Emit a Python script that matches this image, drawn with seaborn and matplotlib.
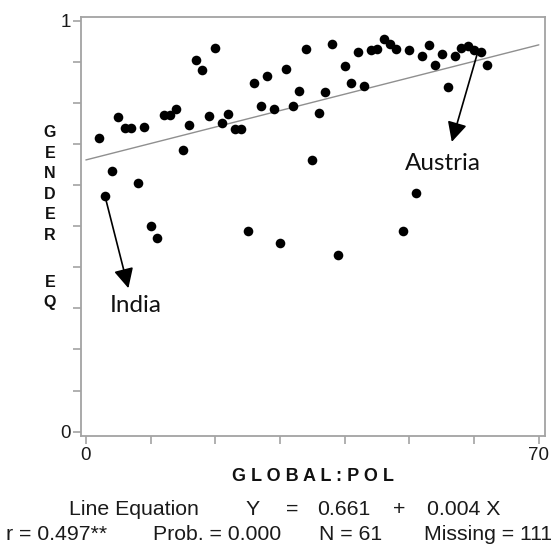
import matplotlib
matplotlib.use("Agg")
import matplotlib.pyplot as plt
import seaborn as sns
import pandas as pd

# ---- data ----
global_pol = [2, 3, 4, 5, 6, 7, 8, 9, 10, 11, 12, 13, 14, 15, 16, 17, 18, 19, 20, 21,
              22, 23, 24, 25, 26, 27, 28, 29, 30, 31, 32, 33, 34, 35, 36, 37, 38, 39, 40, 41,
              42, 43, 44, 45, 46, 47, 48, 49, 50, 51, 52, 53, 54, 55, 56, 57, 58, 59, 60, 61, 62]
gender_eq = [0.714, 0.573, 0.634, 0.766, 0.739, 0.739, 0.604, 0.740, 0.500, 0.472,
             0.770, 0.770, 0.785, 0.685, 0.745, 0.905, 0.881, 0.767, 0.934, 0.751,
             0.773, 0.736, 0.736, 0.487, 0.848, 0.793, 0.864, 0.785, 0.460, 0.883,
             0.792, 0.829, 0.931, 0.661, 0.775, 0.826, 0.944, 0.430, 0.890, 0.847,
             0.923, 0.840, 0.928, 0.931, 0.955, 0.944, 0.931, 0.488, 0.929, 0.581,
             0.915, 0.940, 0.893, 0.919, 0.839, 0.913, 0.933, 0.937, 0.928, 0.923, 0.893]
fit_x = [0, 70]
fit_y = [0.661, 0.941]          # Y = 0.661 + 0.004 X
x_ticks = [0, 10, 20, 30, 40, 50, 60, 70]
x_tick_labels = ["0", "", "", "", "", "", "", "70"]
y_ticks = [0, 0.1, 0.2, 0.3, 0.4, 0.5, 0.6, 0.7, 0.8, 0.9, 1.0]
y_tick_labels = ["0", "", "", "", "", "", "", "", "", "", "1"]
annot_labels = ["India", "Austria"]
annot_points = [(2.97, 0.572), (60.5, 0.920)]
annot_tips = [(6.57, 0.349), (56.55, 0.705)]
annot_text_pos = [(7.76, 0.308), (55.2, 0.653)]
x_label = "G L O B A L : P O L"
y_label_top = list("GENDER")
y_label_bottom = list("EQ")
stats_row1 = ["Line Equation", "Y", "=", "0.661", "+", "0.004 X"]
stats_row2 = ["r = 0.497**", "Prob. = 0.000", "N = 61", "Missing = 111"]

df = pd.DataFrame({"GLOBAL:POL": global_pol, "GENDER EQ": gender_eq})

sns.set_theme(style="white")
plt.rcParams["font.family"] = ["Liberation Sans", "DejaVu Sans"]

W, H = 558, 547
fig = plt.figure(figsize=(W / 100, H / 100), dpi=100)
left, right, top, bottom = 80.7, 545.3, 17.3, 436.0
ax = fig.add_axes([left / W, 1 - bottom / H, (right - left) / W, (bottom - top) / H])

sns.scatterplot(data=df, x="GLOBAL:POL", y="GENDER EQ", color="black", s=48,
                linewidth=0, ax=ax, zorder=3)
sns.lineplot(x=fit_x, y=fit_y, color="#8f8f8f", linewidth=1.0, ax=ax, zorder=2)

ax.set_xlim(-0.8, 71.0)
ax.set_ylim(-0.0105, 1.008)
ax.set_xticks(x_ticks)
ax.set_xticklabels(x_tick_labels)
ax.set_yticks(y_ticks)
ax.set_yticklabels(y_tick_labels)
ax.set_xlabel("")
ax.set_ylabel("")
axis_grey = "#a3a3a3"
for sp in ax.spines.values():
    sp.set_visible(True)
    sp.set_color(axis_grey)
    sp.set_linewidth(1.3)
ax.tick_params(axis="both", direction="out", length=6, width=1.2, color=axis_grey,
               labelsize=13.5, labelcolor="#1a1a1a", bottom=True, left=True,
               top=False, right=False)
ax.tick_params(axis="x", pad=2)
ax.tick_params(axis="y", pad=1)
ax.grid(False)

# annotations
for lab, pt, tip, tp in zip(annot_labels, annot_points, annot_tips, annot_text_pos):
    ax.annotate("", xy=tip, xytext=pt,
                arrowprops=dict(arrowstyle="-|>", color="black", lw=1.2,
                                mutation_scale=30, shrinkA=0, shrinkB=0))
    ax.text(tp[0], tp[1], lab, ha="center", va="center", fontsize=17.5,
            family=["Lato", "DejaVu Sans"], color="#111111")

# axis labels
fig.text(312.5 / W, 1 - 480.7 / H, x_label, ha="center", va="baseline",
         fontsize=13, fontweight="bold", color="#111111")
y_top_px = [131.7, 152.2, 172.7, 193.2, 213.7, 234.2]
y_bot_px = [281.7, 301.7]
for ch, yp in zip(y_label_top + y_label_bottom, y_top_px + y_bot_px):
    fig.text(50 / W, 1 - (yp + 5.6) / H, ch, ha="center", va="baseline",
             fontsize=11.5, fontweight="bold", color="#111111")

# stats text
row1_x = [69, 246, 286, 317, 393, 427]
row2_x = [6, 153, 319, 424]
for t, xp in zip(stats_row1, row1_x):
    fig.text(xp / W, 1 - 514.7 / H, t, ha="left", va="baseline", fontsize=15.3,
             color="#1a1a1a")
for t, xp in zip(stats_row2, row2_x):
    fig.text(xp / W, 1 - 540.3 / H, t, ha="left", va="baseline", fontsize=15.3,
             color="#1a1a1a")

fig.savefig("out.png", dpi=100, facecolor="white")
